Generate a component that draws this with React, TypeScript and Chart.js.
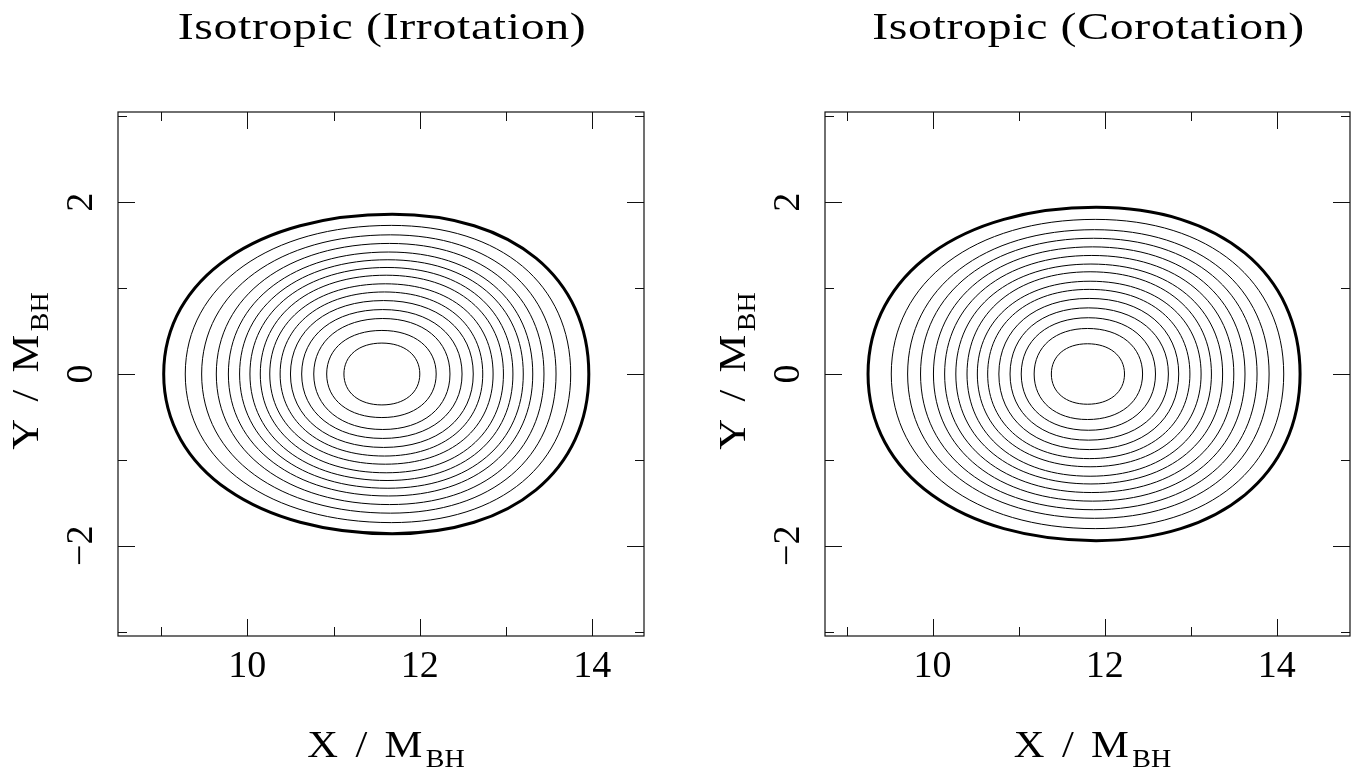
import React, { useEffect, useRef } from 'react';
import { Chart, registerables } from 'chart.js';

Chart.register(...registerables);

// ---- Tick values / labels ----
const xMajorTicks = [10, 12, 14];
const xMajorLabels = ['10', '12', '14'];
const xMinorTicks = [9, 11, 13];
const yMajorTicks = [-2, 0, 2];
const yMajorLabels = ['\u22122', '0', '2'];
const yMinorTicks = [-3, -1, 1, 3];

// ---- Irrotation contours (outer -> inner): left/right x on y=0, top y and x of top ----
const irrLeft = [9.03, 9.28, 9.47, 9.64, 9.78, 9.91, 10.03, 10.15, 10.26, 10.38, 10.5, 10.63, 10.77, 10.92, 11.12];
const irrRight = [13.96, 13.75, 13.58, 13.44, 13.31, 13.2, 13.08, 12.97, 12.85, 12.73, 12.62, 12.49, 12.35, 12.19, 12.0];
const irrTop = [1.86, 1.73, 1.62, 1.52, 1.42, 1.33, 1.24, 1.15, 1.05, 0.955, 0.855, 0.75, 0.646, 0.507, 0.36];
const irrTopX = [11.68, 11.67, 11.66, 11.65, 11.64, 11.63, 11.62, 11.61, 11.6, 11.59, 11.58, 11.57, 11.57, 11.56, 11.56];

// ---- Corotation contours (outer -> inner) ----
const corLeft = [9.25, 9.52, 9.71, 9.86, 10.01, 10.14, 10.27, 10.4, 10.52, 10.64, 10.77, 10.9, 11.03, 11.18, 11.38];
const corRight = [14.27, 14.08, 13.91, 13.77, 13.63, 13.5, 13.37, 13.24, 13.12, 12.99, 12.86, 12.74, 12.59, 12.44, 12.23];
const corTop = [1.94, 1.8, 1.68, 1.58, 1.48, 1.38, 1.28, 1.19, 1.08, 0.985, 0.88, 0.77, 0.655, 0.53, 0.352];
const corTopX = [11.9, 11.89, 11.88, 11.87, 11.86, 11.85, 11.84, 11.83, 11.83, 11.82, 11.82, 11.81, 11.81, 11.8, 11.8];

const FONT = '"Liberation Serif", "DejaVu Serif", serif';
const W = 682;
const H = 772;
const Y_AXIS_W = 60;
const X_AXIS_H = 80;

type Panel = {
  title: string;
  xMin: number;
  xMax: number;
  left: number[];
  right: number[];
  top: number[];
  topX: number[];
  areaLeft: number;
  areaRight: number;
  offset: number;
};

const panels: Panel[] = [
  { title: 'Isotropic (Irrotation)', xMin: 8.5, xMax: 14.6, left: irrLeft, right: irrRight, top: irrTop, topX: irrTopX, areaLeft: 118, areaRight: 644, offset: 0 },
  { title: 'Isotropic (Corotation)', xMin: 8.75, xMax: 14.85, left: corLeft, right: corRight, top: corTop, topX: corTopX, areaLeft: 143, areaRight: 668, offset: 682 },
];

function contourDatasets(p: Panel) {
  return p.left.map((L, i) => {
    const ring = () => [
      { x: L, y: 0 },
      { x: p.topX[i], y: p.top[i] },
      { x: p.right[i], y: 0 },
      { x: p.topX[i], y: -p.top[i] },
    ];
    const a = ring();
    const b = ring();
    const n = a.length;
    const data = [a[n - 1], ...a, b[0], b[1]];
    return {
      data,
      showLine: true,
      pointRadius: 0,
      pointHoverRadius: 0,
      borderColor: '#000',
      borderWidth: i === 0 ? 3 : 1,
      tension: 0.6,
      fill: false,
      segment: {
        borderColor: (c: any) => (c.p0DataIndex === 0 || c.p0DataIndex === n + 1 ? 'rgba(0,0,0,0)' : undefined),
      },
    };
  });
}

function drawWide(ctx: CanvasRenderingContext2D, text: string, x: number, y: number, sx: number, align: 'left' | 'center') {
  const w = ctx.measureText(text).width * sx;
  ctx.save();
  ctx.translate(align === 'center' ? x - w / 2 : x, y);
  ctx.scale(sx, 1);
  ctx.textAlign = 'left';
  ctx.fillText(text, 0, 0);
  ctx.restore();
  return w;
}

function drawSubLabel(ctx: CanvasRenderingContext2D, main: string, sub: string, cx: number, baseline: number) {
  const SX = 1.12;
  ctx.textBaseline = 'alphabetic';
  ctx.font = `38px ${FONT}`;
  (ctx as any).letterSpacing = '3px';
  const w1 = ctx.measureText(main).width * SX;
  ctx.font = `25px ${FONT}`;
  (ctx as any).letterSpacing = '0px';
  const w2 = ctx.measureText(sub).width * SX;
  const x0 = cx - (w1 + w2) / 2;
  ctx.font = `38px ${FONT}`;
  (ctx as any).letterSpacing = '3px';
  drawWide(ctx, main, x0, baseline, SX, 'left');
  ctx.font = `25px ${FONT}`;
  (ctx as any).letterSpacing = '0px';
  drawWide(ctx, sub, x0 + w1, baseline + 10, SX, 'left');
}

function makeFramePlugin(title: string) {
  return {
    id: 'pgFrame',
    afterDraw(chart: any) {
      const { ctx, chartArea: a, scales } = chart;
      const x = scales.x;
      const y = scales.y;
      ctx.save();
      ctx.strokeStyle = '#111';
      ctx.lineWidth = 1.2;
      ctx.strokeRect(a.left, a.top, a.right - a.left, a.bottom - a.top);
      ctx.lineWidth = 1;
      const xt = (v: number, len: number) => {
        const px = Math.round(x.getPixelForValue(v)) + 0.5;
        ctx.beginPath();
        ctx.moveTo(px, a.bottom);
        ctx.lineTo(px, a.bottom - len);
        ctx.moveTo(px, a.top);
        ctx.lineTo(px, a.top + len);
        ctx.stroke();
      };
      const yt = (v: number, len: number) => {
        const py = Math.round(y.getPixelForValue(v)) + 0.5;
        ctx.beginPath();
        ctx.moveTo(a.left, py);
        ctx.lineTo(a.left + len, py);
        ctx.moveTo(a.right, py);
        ctx.lineTo(a.right - len, py);
        ctx.stroke();
      };
      xMajorTicks.forEach((v) => xt(v, 17));
      xMinorTicks.forEach((v) => xt(v, 9));
      yMajorTicks.forEach((v) => yt(v, 17));
      yMinorTicks.forEach((v) => yt(v, 9));

      ctx.fillStyle = '#000';
      ctx.font = `38px ${FONT}`;
      (ctx as any).letterSpacing = '0.5px';
      ctx.textBaseline = 'alphabetic';
      drawWide(ctx, title, (a.left + a.right) / 2 + 1, 39, 1.26, 'center');

      drawSubLabel(ctx, 'X / M', 'BH', (a.left + a.right) / 2 + 5, 757);

      ctx.translate(a.left - 80, (a.top + a.bottom) / 2 - 3);
      ctx.rotate(-Math.PI / 2);
      drawSubLabel(ctx, 'Y / M', 'BH', 0, 0);
      ctx.restore();
    },
  };
}

function PanelChart({ panel }: { panel: Panel }) {
  const ref = useRef<HTMLCanvasElement | null>(null);
  useEffect(() => {
    if (!ref.current) return;
    const chart = new Chart(ref.current, {
      type: 'scatter',
      data: { datasets: contourDatasets(panel) as any },
      options: {
        animation: false,
        responsive: false,
        maintainAspectRatio: false,
        events: [],
        layout: {
          padding: {
            left: panel.areaLeft - Y_AXIS_W,
            top: 112,
            right: W - panel.areaRight,
            bottom: H - 636 - X_AXIS_H,
          },
        },
        plugins: {
          legend: { display: false },
          tooltip: { enabled: false },
          title: { display: false },
        },
        scales: {
          x: {
            type: 'linear',
            min: panel.xMin,
            max: panel.xMax,
            grid: { display: false, drawTicks: false },
            border: { display: false },
            ticks: {
              color: '#000',
              font: { family: FONT, size: 38 },
              padding: 8,
              autoSkip: false,
              maxRotation: 0,
              minRotation: 0,
              callback: (_v: any, i: number) => xMajorLabels[i],
            },
            afterBuildTicks: (s: any) => {
              s.ticks = xMajorTicks.map((v) => ({ value: v }));
            },
            afterFit: (s: any) => {
              s.height = X_AXIS_H;
            },
          },
          y: {
            type: 'linear',
            min: -3.05,
            max: 3.05,
            grid: { display: false, drawTicks: false },
            border: { display: false },
            ticks: {
              color: '#000',
              font: { family: FONT, size: 38 },
              padding: 16,
              autoSkip: false,
              minRotation: 90,
              maxRotation: 90,
              crossAlign: 'center',
              callback: (_v: any, i: number) => yMajorLabels[i],
            },
            afterBuildTicks: (s: any) => {
              s.ticks = yMajorTicks.map((v) => ({ value: v }));
            },
            afterFit: (s: any) => {
              s.width = Y_AXIS_W;
            },
          },
        },
      },
      plugins: [makeFramePlugin(panel.title)],
    });
    return () => chart.destroy();
  }, [panel]);
  return (
    <canvas
      ref={ref}
      width={W}
      height={H}
      style={{ position: 'absolute', left: panel.offset, top: 0, width: W, height: H }}
    />
  );
}

export default function App() {
  return (
    <div style={{ position: 'fixed', left: 0, top: 0, width: 1364, height: 772, background: '#fff', overflow: 'hidden' }}>
      {panels.map((p) => (
        <PanelChart key={p.title} panel={p} />
      ))}
    </div>
  );
}
